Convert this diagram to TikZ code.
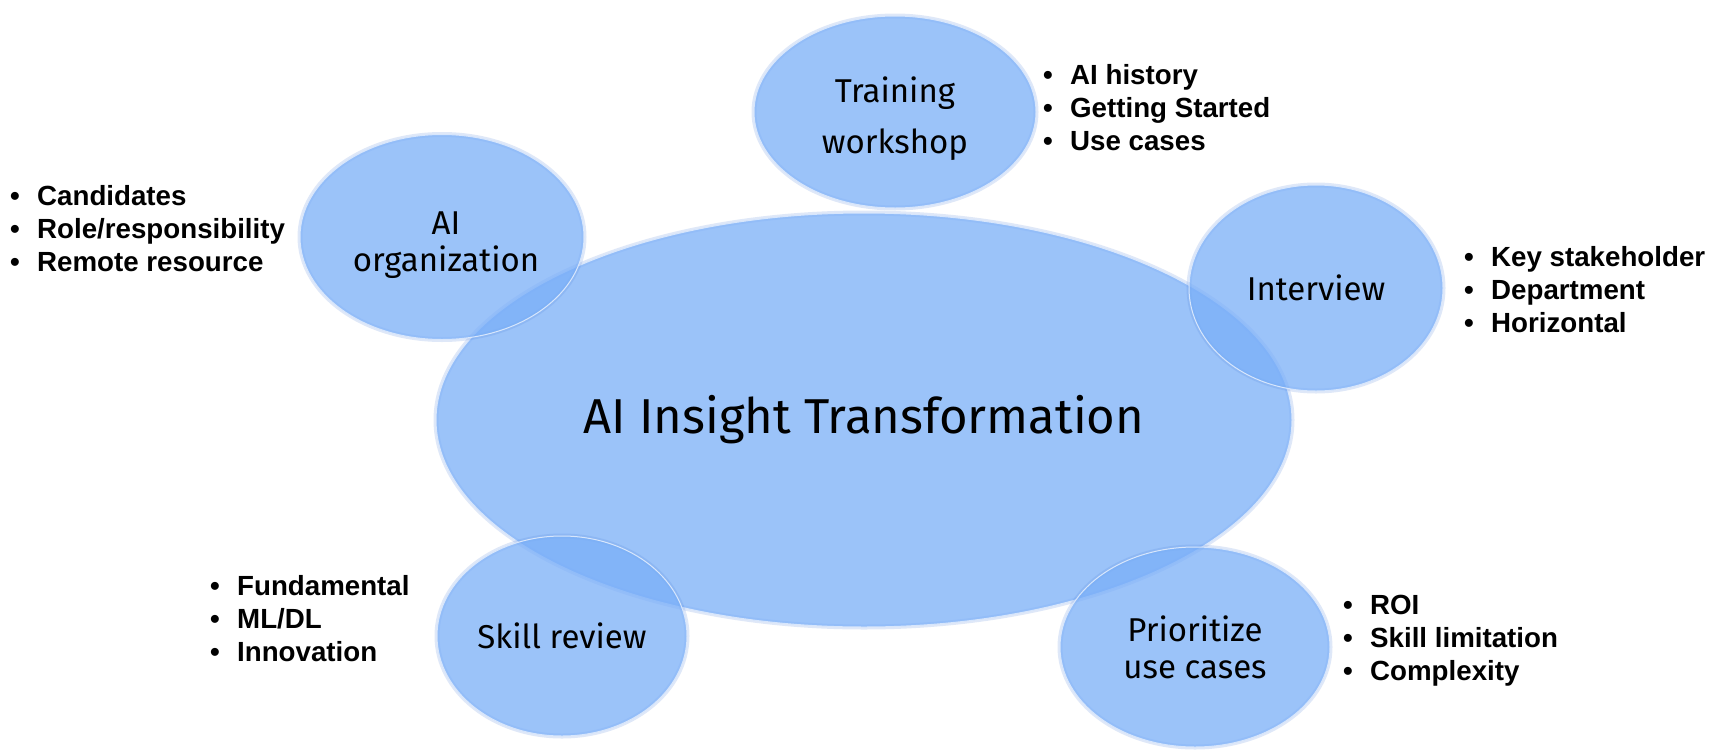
\documentclass[tikz,border=0pt]{standalone}
\usepackage{fontspec}
\setmainfont{Liberation Sans}
\newfontfamily\bubblefont{Fira Sans}
\usetikzlibrary{shapes.geometric}

\definecolor{bubblefill}{RGB}{122,175,248}
\definecolor{bubbleedge}{RGB}{80,130,220}
\definecolor{bubblerim}{RGB}{215,230,252}

\newcommand\bulletline[1]{\makebox[27pt][l]{\textbullet}#1}

\tikzset{
  bubble/.style={ellipse, fill=bubblefill, fill opacity=0.75, text opacity=1,
    draw=bubblerim, line width=1pt, inner sep=0pt, align=center,
    preaction={draw=bubbleedge, draw opacity=0.18, line width=5pt},
    font=\bubblefont\fontsize{33}{37}\selectfont},
  points/.style={anchor=west, inner sep=0pt, align=left,
    font=\bfseries\fontsize{27.7}{33}\selectfont},
}

\begin{document}
\begin{tikzpicture}[x=1pt, y=-1pt]
  \path[use as bounding box, fill=white] (0,0) rectangle (1711,750);

  % centre
  \node[bubble, minimum width=856pt, minimum height=414pt,
        font=\bubblefont\fontsize{49}{58}\selectfont] (core) at (864,420) {AI Insight Transformation};

  % satellites
  \node[bubble, minimum width=282pt, minimum height=192pt] (training) at (895,112) {};
  \node[bubble, minimum width=284pt, minimum height=205pt] (org) at (442,237) {};
  \node[bubble, minimum width=254pt, minimum height=206pt] (interview) at (1316,288) {Interview};
  \node[bubble, minimum width=250pt, minimum height=200pt] (skill) at (562,636) {Skill review};
  \node[bubble, minimum width=270pt, minimum height=200pt] (prioritize) at (1195,647) {Prioritize\\use cases};
  \node[inner sep=0pt, align=center, font=\bubblefont\fontsize{33}{37}\selectfont] (trainingtxt) at (895,119) {Training\\[14pt]workshop};
  \node[inner sep=0pt, align=center, font=\bubblefont\fontsize{33}{37}\selectfont] (orgtxt) at (446,245) {AI\\organization};

  % bullet lists
  \node[points] (trainingpts) at (1043,108) {\bulletline{AI history}\\\bulletline{Getting Started}\\\bulletline{Use cases}};
  \node[points] (orgpts) at (10,229) {\bulletline{Candidates}\\\bulletline{Role/responsibility}\\\bulletline{Remote resource}};
  \node[points] (interviewpts) at (1464,290) {\bulletline{Key stakeholder}\\\bulletline{Department}\\\bulletline{Horizontal}};
  \node[points] (skillpts) at (210,619) {\bulletline{Fundamental}\\\bulletline{ML/DL}\\\bulletline{Innovation}};
  \node[points] (prioritizepts) at (1343,641) {\bulletline{ROI}\\\bulletline{Skill limitation}\\\bulletline{Complexity}};
\end{tikzpicture}
\end{document}
